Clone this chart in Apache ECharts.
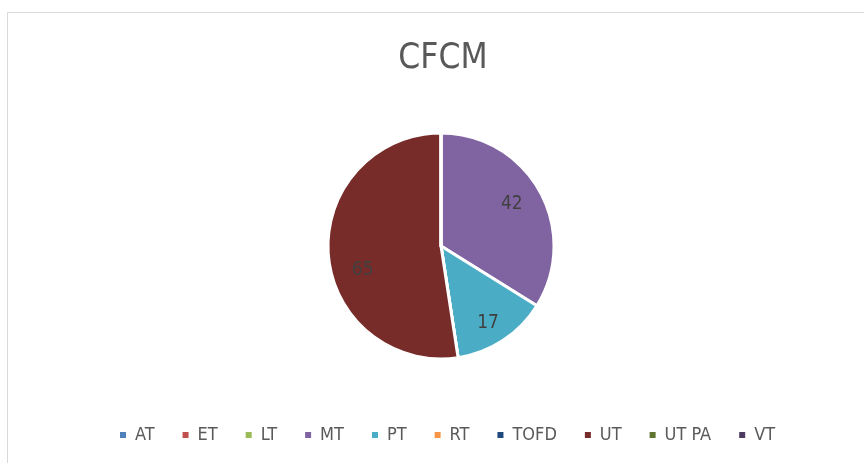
<!DOCTYPE html>
<html>
<head>
<meta charset="utf-8">
<script src="https://cdn.jsdelivr.net/npm/echarts@6/dist/echarts.min.js"></script>
<style>
  html, body { margin: 0; padding: 0; background: #fff; }
  #chart { width: 864px; height: 463px; }
</style>
</head>
<body>
<div id="chart"></div>
<script>
var methods = ["AT", "ET", "LT", "MT", "PT", "RT", "TOFD", "UT", "UT PA", "VT"];
var counts = [0, 0, 0, 42, 17, 0, 0, 65, 0, 0];
var colors = ["#4F81BD", "#C0504D", "#9BBB59", "#8064A2", "#4BACC6",
  "#F79646", "#1F497D", "#772C2A", "#5F7530", "#4D3B62"];

var font = "'DejaVu Sans Condensed', 'Liberation Sans', sans-serif";

// nudges so the value labels sit where Excel put them
var labelNudge = { MT: [-4, 0], PT: [0, 6], UT: [7, 18] };

var chart = echarts.init(document.getElementById("chart"));

chart.setOption({
  animation: false,
  color: colors,
  graphic: [
    {
      type: "rect",
      shape: { x: 7.5, y: 12.5, width: 900, height: 500 },
      style: { fill: "none", stroke: "#d9d9d9", lineWidth: 1 },
      silent: true,
    },
  ],
  title: {
    text: "CFCM",
    left: 438,
    textAlign: "center",
    top: 36,
    textStyle: { fontFamily: font, fontSize: 35, fontWeight: "normal", color: "#595959" },
  },
  legend: {
    data: methods,
    top: 421,
    left: 113,
    itemWidth: 8,
    itemHeight: 8,
    itemGap: 26,
    icon: "rect",
    textStyle: { fontFamily: font, fontSize: 18, color: "#595959", padding: [0, 0, 0, 3] },
  },
  series: [
    {
      type: "pie",
      center: [441, 246],
      radius: [0, 113],
      startAngle: 90,
      clockwise: true,
      data: methods.map(function (name, i) {
        return { name: name, value: counts[i], itemStyle: { color: colors[i] } };
      }),
      itemStyle: { borderColor: "#fff", borderWidth: 3 },
      label: { show: false },
      labelLine: { show: false },
      emphasis: { disabled: true },
    },
    {
      // transparent ring, only to place the value labels further out
      type: "pie",
      center: [441, 246],
      radius: [52, 113],
      startAngle: 90,
      clockwise: true,
      silent: true,
      data: methods.map(function (name, i) {
        return {
          name: name,
          value: counts[i],
          label: labelNudge[name] ? { offset: labelNudge[name] } : {},
        };
      }),
      itemStyle: { color: "rgba(0,0,0,0)", borderWidth: 0 },
      label: {
        show: true,
        position: "inside",
        fontFamily: font,
        fontSize: 19,
        color: "#404040",
        formatter: function (p) {
          return p.value ? String(p.value) : "";
        },
      },
      labelLine: { show: false },
      emphasis: { disabled: true },
    },
  ],
});
</script>
</body>
</html>
